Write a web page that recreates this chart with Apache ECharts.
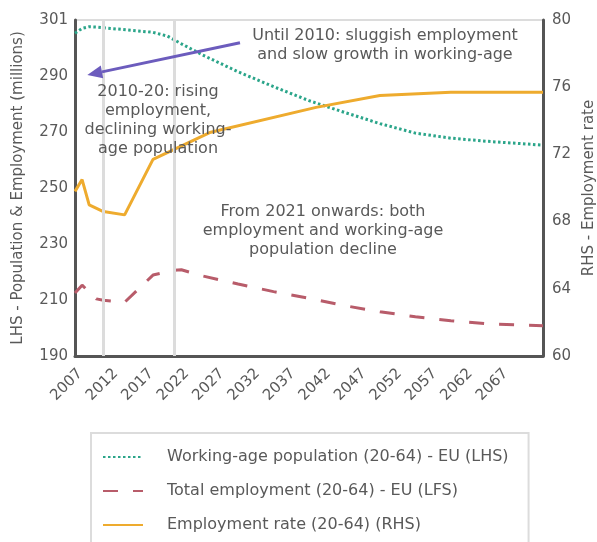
<!DOCTYPE html>
<html>
<head>
<meta charset="utf-8">
<script src="https://cdn.jsdelivr.net/npm/echarts@6/dist/echarts.min.js"></script>
<style>html,body{margin:0;padding:0;background:#fff;overflow:hidden;}#c{width:597px;height:542px;}</style>
</head>
<body>
<div id="c"></div>
<script>
// Categories (yearly)
const firstYear = 2007, lastYear = 2073;
const years = [];
for (let y = firstYear; y <= lastYear; y++) years.push(String(y));
const xTickLabels = ['2007','2012','2017','2022','2027','2032','2037','2042','2047','2052','2057','2062','2067'];
const leftTickLabels = ['190','210','230','250','270','290','301'];
const rightTickLabels = ['60','64','68','72','76','80'];

// Working-age population (20-64) - EU (LHS), millions
const popYears  = ['2007','2008','2009','2010','2012','2015','2018','2020','2022','2025','2030','2035','2040','2045','2050','2055','2060','2065','2073'];
const popValues = [305.3, 307.0, 307.6, 307.5, 307.0, 306.3, 305.6, 304.3, 301.5, 297.5, 291.5, 286.2, 281.2, 277.0, 273.0, 269.6, 267.8, 266.7, 265.3];

// Total employment (20-64) - EU (LFS), millions
const empYears  = ['2007','2008','2010','2011','2014','2018','2021','2022','2025','2030','2035','2040','2045','2050','2055','2060','2065','2073'];
const empValues = [212.5, 215.3, 210.4, 209.9, 209.2, 218.9, 220.6, 220.8, 218.6, 215.7, 213.0, 210.6, 208.0, 205.8, 204.0, 202.6, 201.5, 200.8];

// Employment rate (20-64) (RHS), %
const rateYears  = ['2007','2008','2009','2011','2014','2018','2026','2041','2050','2060','2073'];
const rateValues = [69.8, 70.5, 69.0, 68.6, 68.4, 71.7, 73.3, 74.8, 75.5, 75.7, 75.7];

// Period boundaries
const periodLines = ['2011', '2021'];

const pair = (xs, vs) => xs.map((x, i) => [x, vs[i]]);

const FONT = 'DejaVu Sans';
const TXT = '#595959';
const AXIS = '#555555';

const chart = echarts.init(document.getElementById('c'));
chart.setOption({
  animation: false,
  backgroundColor: '#ffffff',
  textStyle: { fontFamily: FONT },
  grid: { left: 75, right: 54, top: 20, bottom: 186, show: true, borderColor: '#dcdcdc', borderWidth: 2,
          containLabel: false, outerBoundsMode: 'none' },
  xAxis: {
    type: 'category',
    data: years,
    boundaryGap: false,
    axisLine: { lineStyle: { color: AXIS, width: 3 } },
    axisTick: { show: false },
    axisLabel: {
      rotate: 45, margin: 10, fontSize: 15, color: TXT, fontFamily: FONT, verticalAlign: 'top',
      interval: (i, v) => xTickLabels.indexOf(v) >= 0
    },
    splitLine: { show: false }
  },
  yAxis: [{
    type: 'value', min: 190, max: 310, interval: 20, position: 'left',
    name: 'LHS - Population & Employment (millions)', nameLocation: 'middle', nameGap: 49, nameRotate: 90,
    nameTextStyle: { fontSize: 15, color: TXT, fontFamily: FONT },
    axisLine: { show: true, lineStyle: { color: AXIS, width: 3 } },
    axisTick: { show: false },
    axisLabel: { fontSize: 15, color: TXT, fontFamily: FONT, margin: 7,
      formatter: v => leftTickLabels[Math.round((v - 190) / 20)] },
    splitLine: { show: false }
  }, {
    type: 'value', min: 60, max: 80, interval: 4, position: 'right',
    name: 'RHS - Employment rate', nameLocation: 'middle', nameGap: 39, nameRotate: 90,
    nameTextStyle: { fontSize: 15, color: TXT, fontFamily: FONT },
    axisLine: { show: true, lineStyle: { color: AXIS, width: 3 } },
    axisTick: { show: false },
    axisLabel: { fontSize: 15, color: TXT, fontFamily: FONT, margin: 9,
      formatter: v => rightTickLabels[Math.round((v - 60) / 4)] },
    splitLine: { show: false }
  }],
  legend: {
    orient: 'vertical', left: 91, top: 433, height: 140,
    padding: [16, 20, 16, 11],
    itemWidth: 40, itemHeight: 14, itemGap: 18,
    borderColor: '#dcdcdc', borderWidth: 2,
    itemStyle: { opacity: 0 },
    textStyle: { fontSize: 16, color: TXT, fontFamily: FONT, padding: [0, 0, 0, 19] },
    data: ['Working-age population (20-64) - EU (LHS)', 'Total employment (20-64) - EU (LFS)', 'Employment rate (20-64) (RHS)']
  },
  series: [{
    name: 'periods', type: 'line', data: [], z: 1,
    markLine: {
      silent: true, symbol: 'none', label: { show: false },
      lineStyle: { color: '#dcdcdc', width: 3, type: 'solid' },
      data: periodLines.map(y => ({ xAxis: y }))
    }
  }, {
    name: 'Working-age population (20-64) - EU (LHS)', type: 'line', yAxisIndex: 0,
    data: pair(popYears, popValues), showSymbol: false, symbol: 'none', smooth: false,
    lineStyle: { color: '#2ba58a', width: 3, type: [2.5, 2.5] }, itemStyle: { color: '#2ba58a' }, z: 3
  }, {
    name: 'Total employment (20-64) - EU (LFS)', type: 'line', yAxisIndex: 0,
    data: pair(empYears, empValues), showSymbol: false, symbol: 'none',
    lineStyle: { color: '#b85c6a', width: 3, type: [15, 15] }, itemStyle: { color: '#b85c6a' }, z: 3
  }, {
    name: 'Employment rate (20-64) (RHS)', type: 'line', yAxisIndex: 1,
    data: pair(rateYears, rateValues), showSymbol: false, symbol: 'none',
    lineStyle: { color: '#eeab2e', width: 3, type: 'solid' }, itemStyle: { color: '#eeab2e' }, z: 3
  }],
  graphic: [{
    type: 'text', z: 10,
    style: { text: 'Until 2010: sluggish employment\nand slow growth in working-age', x: 385, y: 26, textAlign: 'center',
      font: '16px "DejaVu Sans"', fill: TXT, lineHeight: 19 }
  }, {
    type: 'text', z: 10,
    style: { text: '2010-20: rising\nemployment,\ndeclining working-\nage population', x: 158, y: 82, textAlign: 'center',
      font: '16px "DejaVu Sans"', fill: TXT, lineHeight: 19 }
  }, {
    type: 'text', z: 10,
    style: { text: 'From 2021 onwards: both\nemployment and working-age\npopulation decline', x: 323, y: 202, textAlign: 'center',
      font: '16px "DejaVu Sans"', fill: TXT, lineHeight: 19 }
  }, {
    type: 'line', z: 10,
    shape: { x1: 240, y1: 42.7, x2: 102, y2: 71.9 },
    style: { stroke: '#6c5cbd', lineWidth: 3 }
  }, {
    type: 'polygon', z: 10,
    shape: { points: [[87.3, 75], [103.2, 78.2], [100.8, 65.6]] },
    style: { fill: '#6c5cbd' }
  }]
});
</script>
</body>
</html>
